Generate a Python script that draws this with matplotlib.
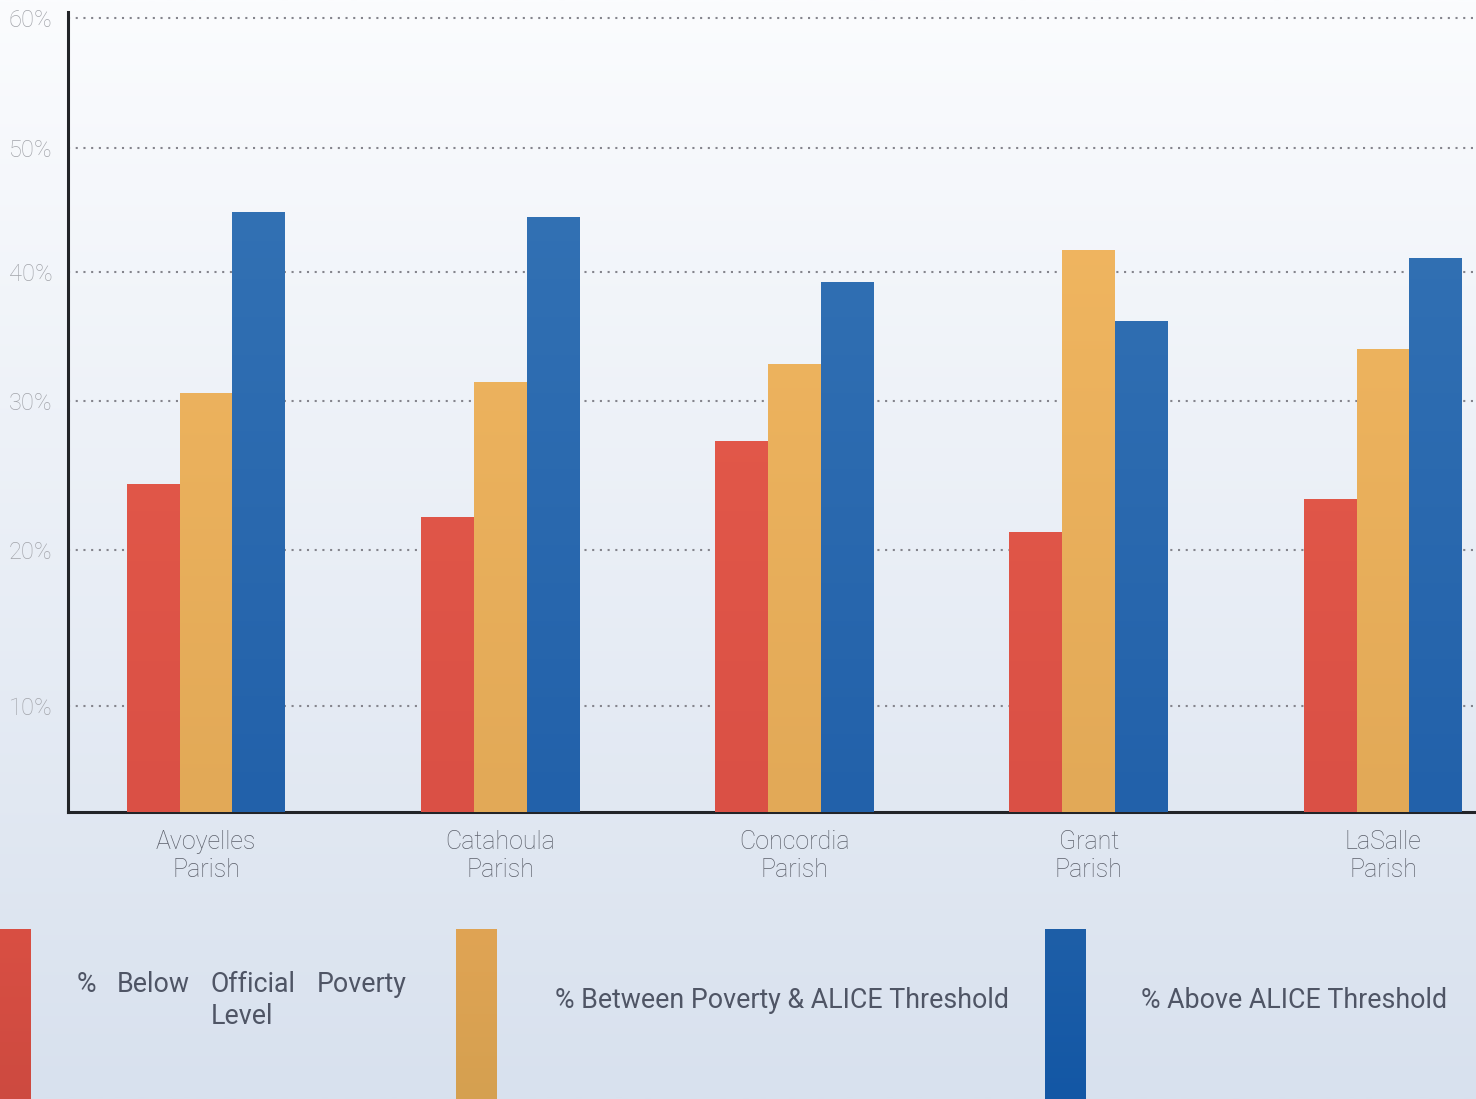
import numpy as np
import matplotlib
matplotlib.use("Agg")
import matplotlib.pyplot as plt
from matplotlib.colors import to_rgb

plt.rcParams['font.family'] = ['Roboto', 'DejaVu Sans']

# datos
parishes = ["Avoyelles\nParish", "Catahoula\nParish", "Concordia\nParish", "Grant\nParish", "LaSalle\nParish"]
below = [24.4, 22.2, 27.3, 21.2, 23.4]
between = [30.6, 31.5, 32.9, 41.8, 34.0]
above = [44.8, 44.4, 39.2, 36.2, 41.1]
series_names = ["% Below Official Poverty Level", "% Between Poverty & ALICE Threshold", "% Above ALICE Threshold"]
yticks = [10, 20, 30, 40, 50, 60]
ytick_labels = ["10%", "20%", "30%", "40%", "50%", "60%"]

# la escala del original no es lineal: alturas (px) de cada linea de la rejilla
scale_vals = [-10, 0, 10, 20, 30, 40, 50, 60, 70]
scale_px = [-106, 0, 106, 262, 411, 540, 664, 794, 924]

def fwd(v):
    return np.interp(v, scale_vals, scale_px)

def inv(h):
    return np.interp(h, scale_px, scale_vals)

def grad(c1, c2, n=256):
    a = np.array(to_rgb(c1)); b = np.array(to_rgb(c2))
    t = np.linspace(0, 1, n).reshape(-1, 1, 1)
    return a + (b - a) * t

W, H = 1476, 1099
fig = plt.figure(figsize=(W/100, H/100), dpi=100)

# fondo con degradado + bloques de la leyenda
bg = fig.add_axes([0, 0, 1, 1], zorder=-1)
bg.axis("off")
bg.imshow(grad("#fbfcfe", "#d8e1ee"), extent=(0, W, H, 0), aspect="auto", interpolation="bilinear")
legend_cols = [("#d94f43", "#cd4a40"), ("#e0a454", "#d5a050"), ("#1e5fa8", "#1357a5")]
legend_x = [0, 456, 1045]
for (c1, c2), x0 in zip(legend_cols, legend_x):
    bg.imshow(grad(c1, c2), extent=(x0, x0 + 41 if x0 else 31, H, 929), aspect="auto", interpolation="bilinear")
bg.set_xlim(0, W)
bg.set_ylim(H, 0)

txt = dict(color="#4f5565", fontsize=19.3, va="center")
for word, x in zip(["%", "Below", "Official", "Poverty"], [77, 117, 211, 317]):
    bg.text(x, 985, word, ha="left", **txt)
bg.text(211, 1017, "Level", ha="left", **txt)
bg.text(782, 1001, series_names[1], ha="center", **txt)
bg.text(1294, 1001, series_names[2], ha="center", **txt)

# grafico principal
ax = fig.add_axes([68/W, (H-812)/H, (W-68)/W, 800/H])
ax.set_facecolor("none")
ax.set_yscale("function", functions=(fwd, inv))

x = np.arange(len(parishes))
w = 0.18
bar_cols = [("#ea604e", "#da5045"), ("#f5ba63", "#e2a957"), ("#3776b7", "#2261aa")]
for k, vals in enumerate([below, between, above]):
    bars = ax.bar(x + (k - 1) * w, vals, w, color=bar_cols[k][1], zorder=2, linewidth=0)
    for b in bars:
        im = ax.imshow(grad(*bar_cols[k]), extent=(0, 1, 0, 1), transform=ax.transAxes,
                       aspect="auto", interpolation="bilinear", zorder=3)
        im.set_clip_path(b)

ax.set_xlim(-0.469, 4.316)
ax.set_ylim(0, inv(800))
ax.set_yticks(yticks)
ax.set_yticklabels(ytick_labels)
ax.set_xticks(x)
ax.set_xticklabels(parishes, linespacing=1.2)

ax.set_axisbelow(True)
ax.yaxis.grid(True, color="#84848c", linestyle=(0, (1, 2.7)), linewidth=1.5)
ax.xaxis.grid(False)

for s in ["top", "right"]:
    ax.spines[s].set_visible(False)
for s in ["left", "bottom"]:
    ax.spines[s].set_color("#222428")
    ax.spines[s].set_linewidth(2.2)

ax.tick_params(axis="y", length=0, pad=11, labelsize=17, labelcolor="#a2a4aa")
ax.tick_params(axis="x", length=0, pad=13, labelsize=18, labelcolor="#5c606b")
for t in ax.get_yticklabels():
    t.set_fontweight("light")
    t.set_y(t.get_position()[1])
for t in ax.get_xticklabels():
    t.set_fontweight("light")

plt.savefig("out.png", dpi=100)
